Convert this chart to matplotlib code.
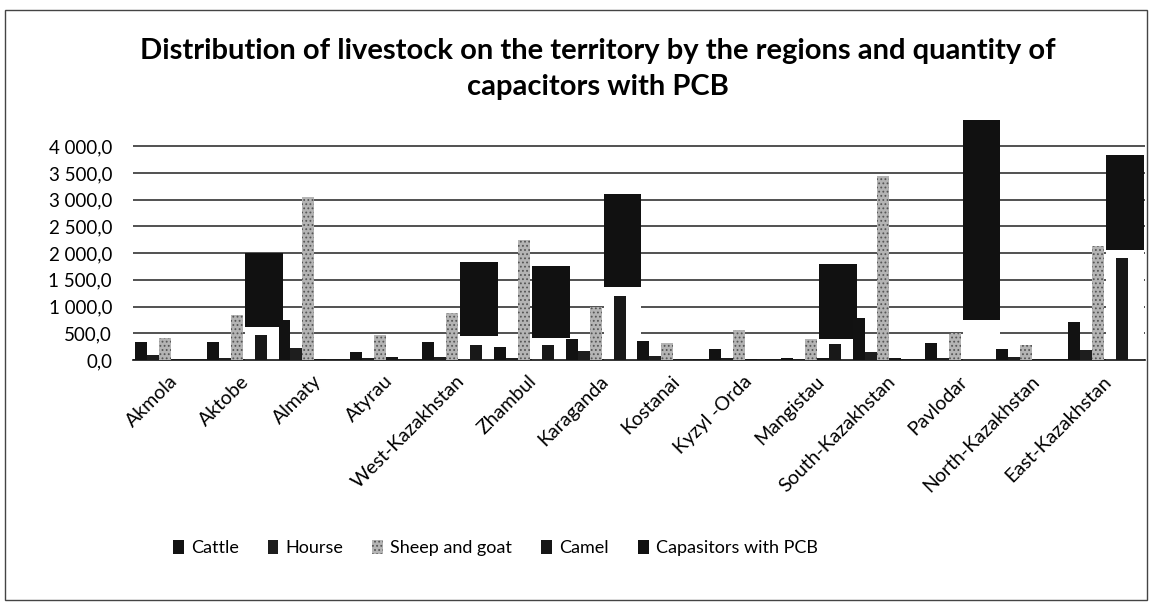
import matplotlib
matplotlib.use("Agg")
import matplotlib.pyplot as plt
import numpy as np
from matplotlib.patches import Rectangle

# data (thousands of heads / pieces)
regions = ["Akmola", "Aktobe", "Almaty", "Atyrau", "West-Kazakhstan", "Zhambul",
           "Karaganda", "Kostanai", "Kyzyl -Orda", "Mangistau", "South-Kazakhstan",
           "Pavlodar", "North-Kazakhstan", "East-Kazakhstan"]
cattle = [340, 340, 740, 150, 340, 240, 400, 360, 200, 40, 790, 320, 200, 710]
hourse = [100, 45, 220, 30, 60, 40, 170, 75, 30, 20, 150, 45, 60, 190]
sheep = [420, 850, 3050, 470, 880, 2250, 990, 320, 570, 400, 3450, 500, 280, 2130]
camel = [0, 5, 20, 50, 5, 5, 0, 0, 20, 30, 30, 0, 0, 5]
# narrow dark bars that sit inside the light lower part of the PCB columns
pcb_inner = [0, 470, 0, 0, 280, 280, 1200, 0, 0, 300, 0, 0, 0, 1900]
# PCB columns: top value and the level where the dark fill starts
capacitors = [0, 2000, 0, 0, 1840, 1760, 3100, 0, 0, 1800, 0, 4500, 0, 3840]
capacitors_dark_from = [0, 625, 0, 0, 440, 420, 1360, 0, 0, 400, 0, 750, 0, 2060]
y_ticks = [0, 500, 1000, 1500, 2000, 2500, 3000, 3500, 4000]

FONT = ["Lato", "DejaVu Sans"]
plt.rcParams["font.family"] = FONT
plt.rcParams["hatch.linewidth"] = 0.8

fig = plt.figure(figsize=(11.49, 6.14), dpi=100)
ax = fig.add_axes([0.1157, 0.4137, 0.881, 0.396])

x = np.arange(len(regions))
slot_w = 12 / 72
offsets = [(8 + 12 * k) / 72 - 0.5 for k in range(5)]

# PCB columns (wide, light base + dark top)
cap = np.array(capacitors)
dark_from = np.array(capacitors_dark_from)
box_x = x + 59 / 72 - 0.5
box_w = 38 / 72
ax.bar(box_x, dark_from, box_w, color="white", zorder=2)
ax.bar(box_x, cap - dark_from, box_w, bottom=dark_from, color="#111111",
       zorder=2, label="Capasitors with PCB")

ax.bar(x + offsets[0], cattle, slot_w, color="#121212", zorder=3, label="Cattle")
ax.bar(x + offsets[1], hourse, slot_w, color="#1e1e1e", zorder=3, label="Hourse")
ax.bar(x + offsets[2], sheep, slot_w, color="#b4b4b4", edgecolor="#555555",
       hatch="....", linewidth=0, zorder=3, label="Sheep and goat")
ax.bar(x + offsets[3], camel, slot_w, color="#161616", zorder=3, label="Camel")
ax.bar(x + offsets[4], pcb_inner, slot_w, color="#181818", zorder=3)

ax.set_xlim(-0.5, 13.6)
ax.set_ylim(0, 4550)
ax.set_yticks(y_ticks)
ax.set_yticklabels([f"{v:,.1f}".replace(",", " ").replace(".", ",") for v in y_ticks],
                   fontsize=13.5)
ax.set_xticks(x)
ax.set_xticklabels(regions, rotation=45, ha="right", rotation_mode="anchor", fontsize=14)
ax.tick_params(axis="y", length=0, pad=15)
ax.tick_params(axis="x", length=0, pad=9)
ax.yaxis.grid(True, color="#222222", linewidth=1.1)
ax.set_axisbelow(True)
for s in ["top", "right", "left"]:
    ax.spines[s].set_visible(False)
ax.spines["bottom"].set_color("#111111")
ax.spines["bottom"].set_linewidth(1.2)

fig.text(0.52, 0.888, "Distribution of livestock on the territory by the regions and quantity of\ncapacitors with PCB",
         ha="center", va="center", fontsize=21, fontweight="bold", linespacing=1.48)

handles, labels = ax.get_legend_handles_labels()
order = [1, 2, 3, 4, 0]
fig.legend([handles[i] for i in order], [labels[i] for i in order], loc="center",
           bbox_to_anchor=(0.431, 0.107), ncol=5, frameon=False, fontsize=13,
           handlelength=0.6, handleheight=0.8, handletextpad=0.4, columnspacing=1.6)

fig.patches.append(Rectangle((0.004, 0.022), 0.994, 0.962, transform=fig.transFigure,
                             fill=False, edgecolor="#444444", linewidth=1.0))

plt.savefig("out.png", dpi=100)
